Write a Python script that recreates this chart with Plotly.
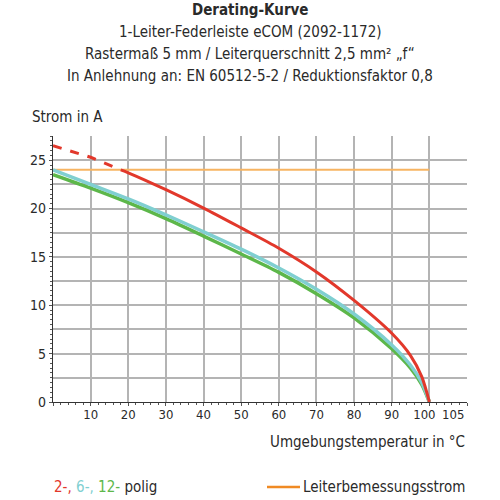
import plotly.graph_objects as go

# ---- data ----
temp = [0, 10, 20, 30, 40, 50, 60, 70, 80, 90, 95, 98, 100]
red_dash_x = [0, 10, 18]
red_dash_y = [26.5, 25.3, 24.0]
red_x = [18, 20, 30, 40, 50, 60, 70, 80, 90, 95, 98, 100]
red_y = [24.0, 23.7, 21.95, 20.05, 18.0, 15.9, 13.45, 10.5, 7.1, 4.8, 2.6, 0]
cyan_y = [24.0, 22.5, 21.0, 19.35, 17.6, 15.8, 13.85, 11.65, 9.1, 5.9, 3.8, 2.0, 0]
green_y = [23.5, 22.1, 20.6, 18.95, 17.15, 15.3, 13.4, 11.2, 8.7, 5.5, 3.5, 1.8, 0]
rated_x = [0, 100]
rated_y = [24, 24]

x_ticks = [10, 20, 30, 40, 50, 60, 70, 80, 90]
x_tick_100 = [100]
x_tick_105 = [105]
y_ticks = [0, 5, 10, 15, 20, 25]
x_grid = list(range(0, 111, 10))
y_grid_extra = [2.5, 7.5, 12.5, 17.5, 22.5, 27.5]

FONT = "Liberation Sans Narrow, DejaVu Sans Condensed, Roboto, sans-serif"
GRID = "#b4b4b4"
RED = "#e2382b"
CYAN = "#80cfd1"
GREEN = "#5db74a"
ORANGE = "#f7b462"
TXT = "#2a2a2a"
CLEAR = "rgba(0,0,0,0)"

fig = go.Figure()
fig.add_trace(go.Scatter(x=rated_x, y=rated_y, mode="lines",
                         line=dict(color=ORANGE, width=2)))
fig.add_trace(go.Scatter(x=temp, y=green_y, mode="lines",
                         line=dict(color=GREEN, width=3.5, shape="spline", smoothing=0.8)))
fig.add_trace(go.Scatter(x=temp, y=cyan_y, mode="lines",
                         line=dict(color=CYAN, width=3.5, shape="spline", smoothing=0.8)))
fig.add_trace(go.Scatter(x=red_dash_x, y=red_dash_y, mode="lines",
                         line=dict(color=RED, width=3, dash="dash")))
fig.add_trace(go.Scatter(x=red_x, y=red_y, mode="lines",
                         line=dict(color=RED, width=3, shape="spline", smoothing=0.8)))
# invisible traces to activate the overlay axes
for xa, ya in (("x2", "y2"), ("x3", "y2")):
    fig.add_trace(go.Scatter(x=[0], y=[0], xaxis=xa, yaxis=ya, mode="markers",
                             marker=dict(opacity=0), hoverinfo="skip"))

common_x = dict(range=[0, 110], showline=True, linewidth=1.2, zeroline=False,
                ticks="outside", ticklen=3, ticklabelstandoff=-3,
                tickfont=dict(size=13, color=TXT))

fig.update_layout(
    width=500, height=500,
    margin=dict(l=53, r=33, t=136, b=98),
    paper_bgcolor="white", plot_bgcolor="white",
    showlegend=False,
    font=dict(family=FONT, size=14, color=TXT),
    xaxis=dict(**common_x, tickvals=x_grid,
               ticktext=[str(v) if v in x_ticks else "" for v in x_grid],
               showgrid=True, gridcolor=GRID, gridwidth=1.5,
               linecolor="#333", tickcolor="#555",
               minor=dict(dtick=2, ticks="outside", ticklen=2, tickcolor="#555", showgrid=False)),
    xaxis2=dict(**common_x, overlaying="x", side="bottom",
                tickvals=x_tick_100, ticktext=[str(v) for v in x_tick_100],
                ticklabelshift=-5, showgrid=False, linecolor=CLEAR, tickcolor=CLEAR),
    xaxis3=dict(**common_x, overlaying="x", side="bottom",
                tickvals=x_tick_105, ticktext=[str(v) for v in x_tick_105],
                ticklabelshift=5, showgrid=False, linecolor=CLEAR, tickcolor=CLEAR),
    yaxis=dict(range=[0, 27.5], tickvals=y_ticks,
               showgrid=True, gridcolor=GRID, gridwidth=1.5,
               showline=True, linecolor="#333", linewidth=1.2,
               ticks="outside", ticklen=3, tickcolor="#555",
               minor=dict(dtick=0.5, ticks="outside", ticklen=2, tickcolor="#555", showgrid=False),
               zeroline=False, tickfont=dict(size=14, color=TXT)),
    yaxis2=dict(range=[0, 27.5], overlaying="y", side="left",
                tickvals=y_grid_extra, showticklabels=False,
                showgrid=True, gridcolor=GRID, gridwidth=1.5,
                showline=False, zeroline=False, ticks=""),
)

title_lines = [
    ("<b>Derating-Kurve</b>", 10),
    ("1-Leiter-Federleiste eCOM (2092-1172)", 32),
    ("Rastermaß 5 mm / Leiterquerschnitt 2,5 mm² „f“", 54),
    ("In Anlehnung an: EN 60512-5-2 / Reduktionsfaktor 0,8", 76),
]
for txt, ypx in title_lines:
    fig.add_annotation(text=txt, xref="paper", yref="paper",
                       x=(250 - 53) / 414, y=(402 - ypx) / 266,
                       xanchor="center", yanchor="middle", showarrow=False,
                       font=dict(size=15, color=TXT))

fig.add_annotation(text="Strom in A", xref="paper", yref="paper",
                   x=(30 - 53) / 414, y=(402 - 117) / 266,
                   xanchor="left", yanchor="middle", showarrow=False,
                   font=dict(size=15, color=TXT))
fig.add_annotation(text="Umgebungstemperatur in °C", xref="paper", yref="paper",
                   x=1.0, y=(402 - 442) / 266,
                   xanchor="right", yanchor="middle", showarrow=False,
                   font=dict(size=15, color=TXT))
fig.add_annotation(text=f"<span style='color:{RED}'>2-,</span> <span style='color:{CYAN}'>6-,</span> "
                        f"<span style='color:{GREEN}'>12-</span> polig",
                   xref="paper", yref="paper",
                   x=(52 - 53) / 414, y=(402 - 487) / 266,
                   xanchor="left", yanchor="middle", showarrow=False,
                   font=dict(size=15, color=TXT))
fig.add_annotation(text="Leiterbemessungsstrom", xref="paper", yref="paper",
                   x=1.0, y=(402 - 487) / 266,
                   xanchor="right", yanchor="middle", showarrow=False,
                   font=dict(size=15, color=TXT))
fig.add_shape(type="line", xref="paper", yref="paper",
              x0=(267 - 53) / 414, x1=(300 - 53) / 414,
              y0=(402 - 487) / 266, y1=(402 - 487) / 266,
              line=dict(color="#f08a24", width=2.5))

fig.write_html("out.html")
